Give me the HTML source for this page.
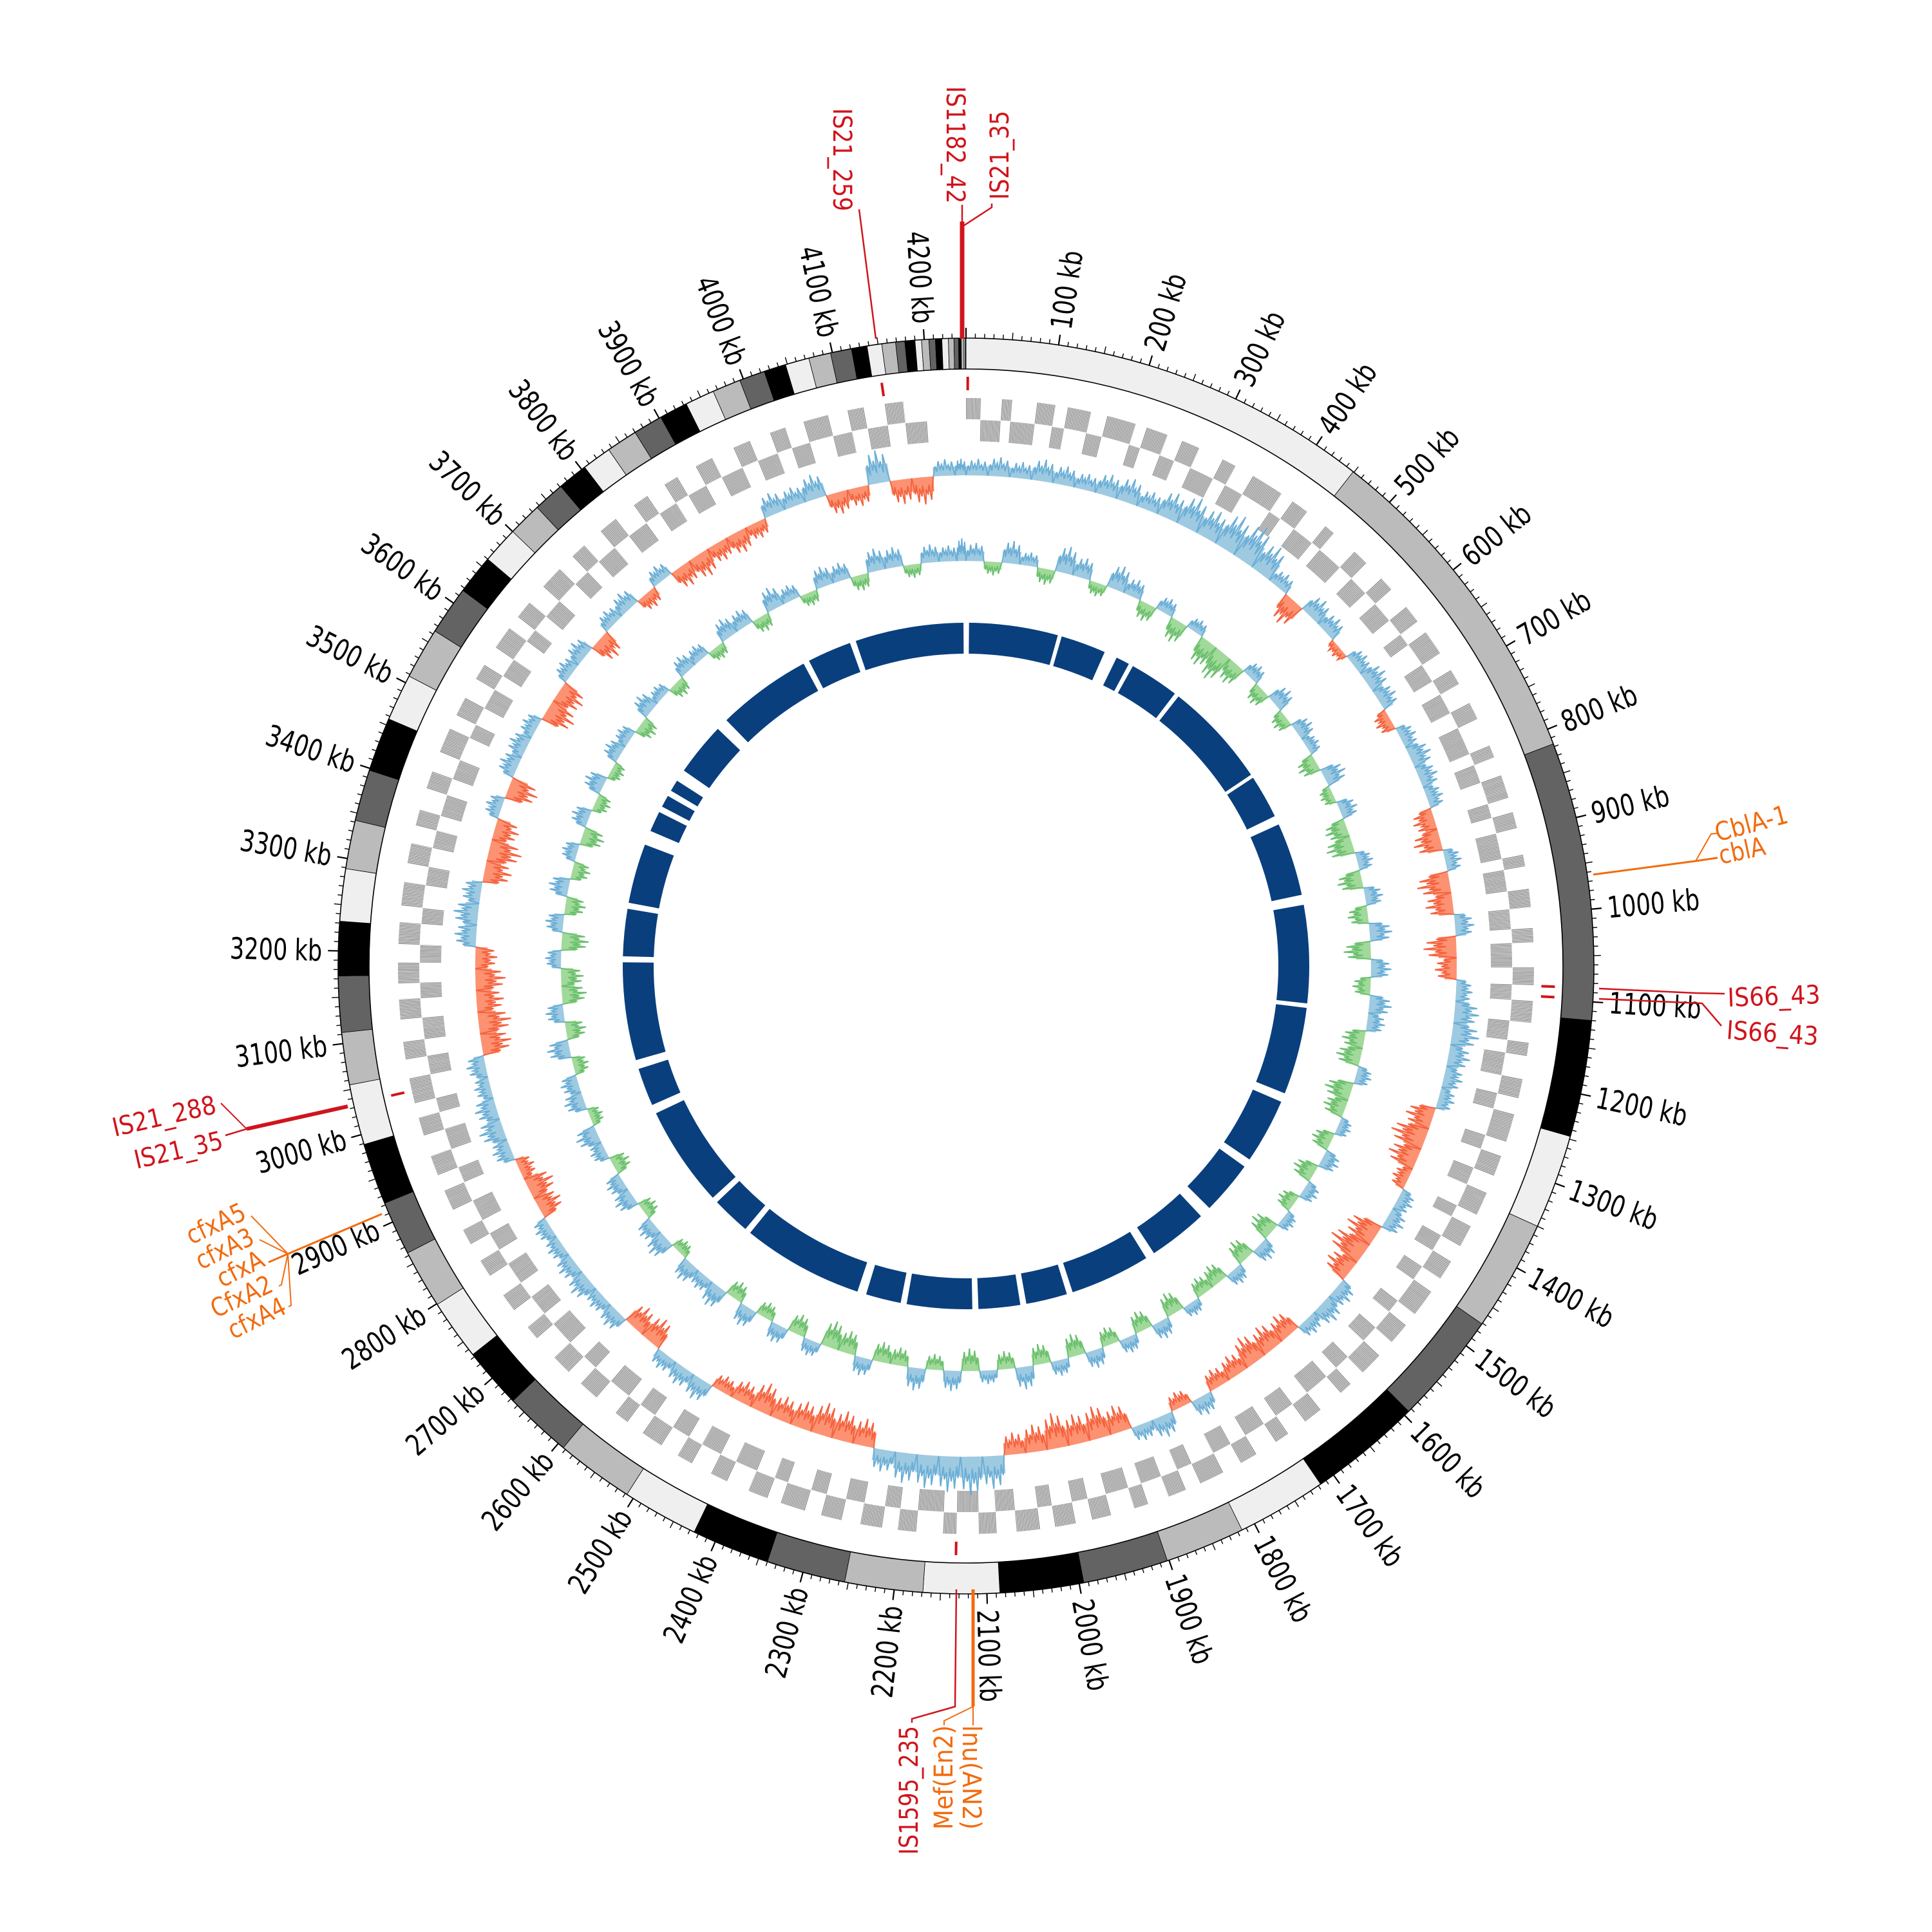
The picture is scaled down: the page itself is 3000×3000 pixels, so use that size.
<!DOCTYPE html>
<html><head><meta charset="utf-8"><title>Genome circos map</title>
<style>
html,body{margin:0;padding:0;background:#fff;}
svg{display:block;}
.tl{font-family:"DejaVu Sans Condensed","Liberation Sans",sans-serif;font-size:46px;fill:#000;}
.an{font-family:"DejaVu Sans Condensed","Liberation Sans",sans-serif;font-size:40px;}
.red{fill:#d0141c;} .org{fill:#f26b0f;}
</style></head>
<body>
<svg id="chart" xmlns="http://www.w3.org/2000/svg" width="3000" height="3000" viewBox="0 0 3000 3000">
<rect width="3000" height="3000" fill="#fff"/>
<g id="g-ideo"></g>
<g id="g-ticks"></g>
<g id="g-ticklabels"></g>
<g id="g-is"></g>
<g id="g-genes"></g>
<g id="g-trackA"></g>
<g id="g-trackB"></g>
<g id="g-blocks"></g>

<g id="annotations">
  <g fill="none">
    <polyline points="1360,526 1334,325" stroke="#d0141c" stroke-width="2.5"/>
    <polyline points="1494,526 1494,344" stroke="#d0141c" stroke-width="7"/>
    <polyline points="1494,344 1494,318" stroke="#d0141c" stroke-width="2.5"/>
    <polyline points="1494,352 1540,322 1540,316" stroke="#d0141c" stroke-width="2.5"/>
    <polyline points="2474,1358 2633,1337 2667,1332" stroke="#f26b0f" stroke-width="3"/>
    <polyline points="2633,1337 2657,1295 2667,1294" stroke="#f26b0f" stroke-width="2"/>
    <polyline points="2483,1535 2633,1542 2678,1543" stroke="#d0141c" stroke-width="2.5"/>
    <polyline points="2483,1551 2643,1558 2673,1593" stroke="#d0141c" stroke-width="2.5"/>
    <polyline points="540,1718 383,1753" stroke="#d0141c" stroke-width="6"/>
    <polyline points="383,1753 350,1763" stroke="#d0141c" stroke-width="2.5"/>
    <polyline points="383,1753 345,1715 343,1713" stroke="#d0141c" stroke-width="2"/>
    <polyline points="593,1885 447,1947 417,1960" stroke="#f26b0f" stroke-width="3"/>
    <polyline points="447,1947 390,1888" stroke="#f26b0f" stroke-width="2"/>
    <polyline points="447,1947 403,1925" stroke="#f26b0f" stroke-width="2"/>
    <polyline points="447,1947 437,1995 433,1997" stroke="#f26b0f" stroke-width="2"/>
    <polyline points="447,1947 452,2027 448,2029" stroke="#f26b0f" stroke-width="2"/>
    <polyline points="1485,2468 1483,2650 1416,2669 1416,2675" stroke="#d0141c" stroke-width="2.5"/>
    <polyline points="1511,2468 1511,2650" stroke="#f26b0f" stroke-width="5"/>
    <polyline points="1511,2650 1466,2672 1466,2679" stroke="#f26b0f" stroke-width="2"/>
    <polyline points="1511,2650 1511,2679" stroke="#f26b0f" stroke-width="2"/>
  </g>
  <text class="an red" transform="translate(1307,168) rotate(90)" dominant-baseline="central" textLength="160" lengthAdjust="spacingAndGlyphs">IS21_259</text>
  <text class="an red" transform="translate(1483,134) rotate(90)" dominant-baseline="central" textLength="182" lengthAdjust="spacingAndGlyphs">IS1182_42</text>
  <text class="an red" transform="translate(1553,310) rotate(-90)" dominant-baseline="central" textLength="138" lengthAdjust="spacingAndGlyphs">IS21_35</text>
  <text class="an org" transform="translate(2667,1307) rotate(-15)" textLength="116" lengthAdjust="spacingAndGlyphs">CblA-1</text>
  <text class="an org" transform="translate(2672,1342) rotate(-12)" textLength="73" lengthAdjust="spacingAndGlyphs">cblA</text>
  <text class="an red" transform="translate(2683,1563) rotate(-2)" textLength="144" lengthAdjust="spacingAndGlyphs">IS66_43</text>
  <text class="an red" transform="translate(2680,1613) rotate(4)" textLength="143" lengthAdjust="spacingAndGlyphs">IS66_43</text>
  <text class="an red" transform="translate(178,1765) rotate(-13)" textLength="164" lengthAdjust="spacingAndGlyphs">IS21_288</text>
  <text class="an red" transform="translate(212,1815) rotate(-13)" textLength="140" lengthAdjust="spacingAndGlyphs">IS21_35</text>
  <text class="an org" transform="translate(297,1933) rotate(-25)" textLength="97" lengthAdjust="spacingAndGlyphs">cfxA5</text>
  <text class="an org" transform="translate(312,1972) rotate(-26)" textLength="95" lengthAdjust="spacingAndGlyphs">cfxA3</text>
  <text class="an org" transform="translate(345,2000) rotate(-27)" textLength="77" lengthAdjust="spacingAndGlyphs">cfxA</text>
  <text class="an org" transform="translate(335,2047) rotate(-25)" textLength="101" lengthAdjust="spacingAndGlyphs">CfxA2</text>
  <text class="an org" transform="translate(362,2080) rotate(-26)" textLength="95" lengthAdjust="spacingAndGlyphs">cfxA4</text>
  <text class="an red" transform="translate(1412,2880) rotate(-90)" dominant-baseline="central" textLength="200" lengthAdjust="spacingAndGlyphs">IS1595_235</text>
  <text class="an org" transform="translate(1466,2841) rotate(-90)" dominant-baseline="central" textLength="162" lengthAdjust="spacingAndGlyphs">Mef(En2)</text>
  <text class="an org" transform="translate(1508,2679) rotate(90)" dominant-baseline="central" textLength="162" lengthAdjust="spacingAndGlyphs">lnu(AN2)</text>
</g>
</svg>

<script>
// ---------- data ----------
const genomeKb = 4245;
const bandEnds = [449,817,1120,1247,1350,1471,1594,1717,1815,1902,1995,2086,2169,2254,2340,2425,2508,2593,2667,2733,2799,2863,2922,2989,3055,3112,3173,3232,3289,3342,3398,3457,3508,3564,3617,3660,3700,3737,3771,3804,3836,3870,3902,3933,3965,3996,4024,4048,4074,4098,4121,4138,4154,4169,4179,4190,4197,4205,4212,4219,4226,4232,4237,4240,4242,4244,4245];
const bandColors = ["#efefef","#bbbbbb","#636363","#000000"];
const tickLabelsKb = [100,200,300,400,500,600,700,800,900,1000,1100,1200,1300,1400,1500,1600,1700,1800,1900,2000,2100,2200,2300,2400,2500,2600,2700,2800,2900,3000,3100,3200,3300,3400,3500,3600,3700,3800,3900,4000,4100,4200];
const isMarkKb = [2,4148,1085,1097,3034,2134];
const binKb = 30;
const skewValues = [
 0.3,0.35,0.3,0.4,0.35,0.3,0.4,0.45,0.35,0.5,0.6,0.55,0.7,0.75,0.6,
 0.3,-0.5,
 0.4,0.35,-0.2,0.3,0.4,0.35,-0.3,0.3,0.4,0.35,
 0.3,-0.4,-0.5,0.3,-0.6,-0.5,0.35,-0.6,-0.4,0.3,
 0.45,0.5,0.4,0.35,0.3,
 -0.5,-0.65,-0.55,-0.3,
 0.3,0.35,
 -0.6,-0.7,-0.5,
 0.35,0.4,0.3,
 -0.45,-0.5,-0.55,-0.4,-0.35,
 0.35,-0.3,0.4,0.3,
 -0.5,-0.6,-0.55,-0.65,-0.5,-0.4,
 0.6,0.7,0.65,0.6,0.55,0.4,
 -0.5,-0.55,-0.6,-0.5,-0.45,-0.55,-0.4,-0.3,
 0.4,0.35,0.3,
 -0.5,-0.45,
 0.35,0.3,0.4,0.35,0.3,0.3,
 -0.45,-0.5,-0.3,
 0.35,0.45,0.4,0.3,0.35,
 -0.55,-0.6,-0.5,-0.55,-0.4,
 0.4,0.45,0.35,
 -0.5,-0.6,-0.45,
 0.3,-0.55,0.35,
 0.35,0.3,
 -0.55,-0.5,
 0.3,0.35,-0.45,0.3,
 0.35,-0.3,0.3,
 -0.4,-0.45,-0.35,-0.4,-0.3,
 0.4,0.35,0.45,
 -0.4,-0.35,0.6,-0.45,-0.5,0.3,0.3];
const contentValues = [
 0.4,-0.3,0.5,0.3,-0.35,0.6,0.45,-0.3,0.55,0.4,-0.4,0.35,-0.5,0.3,-0.6,
 -0.7,-0.5,0.35,-0.4,0.45,-0.35,0.4,0.3,-0.45,0.5,-0.3,0.4,
 -0.5,-0.6,0.35,-0.55,0.4,-0.45,0.5,-0.6,0.45,-0.4,
 0.5,0.4,-0.5,-0.55,0.35,-0.6,-0.5,0.3,-0.45,0.4,-0.5,0.35,-0.4,0.3,
 -0.55,0.4,-0.5,0.35,-0.45,-0.4,0.3,-0.5,0.4,-0.45,0.35,-0.4,
 0.4,-0.5,0.35,-0.45,0.5,-0.4,0.3,-0.5,0.45,-0.35,0.5,-0.4,
 -0.45,0.4,-0.5,-0.6,0.35,-0.45,0.4,-0.35,0.45,-0.4,0.5,0.35,
 0.45,-0.3,0.5,0.4,-0.35,0.45,0.4,-0.4,0.35,0.5,-0.3,0.45,0.4,-0.35,0.5,
 -0.45,0.4,-0.55,-0.5,0.35,-0.6,0.4,-0.45,0.45,-0.4,0.35,-0.5,0.4,-0.35,
 0.45,-0.3,0.4,0.35,-0.4,0.45,0.3,-0.35,0.4,0.35,-0.3,0.45,0.4,-0.35,0.5,0.35,
 -0.3,0.45,0.4,-0.35,0.5,0.45,-0.3,0.4,0.35,0.5];
const geneRunKb = [18,25,12,30,22,15,28,20,35,14,26,19,22,31,17,24,40,16,21,28,13,33,20,25,18,27,22,16,30,24,19,26,21,35,15,23,28,18,20,32,14,27,22,25,17,30,21,19,26,24,16,28,23,20,34,18,25,22,29,15,27,21,24,19,33,17,26,22,28,20,16,31,23,25,18,27,21,24,30,19,22,26,17,29,23,20,25,18,28,24,21,27,16,32,22,19,26,23,25,20,30,17,24,28,21,26,19,23,27,22,18,29,25,20,24,31,17,26,22,28,21,23,19,27,25,20,24,26,22,18,30,23,21,27,24,19,25,22,26,20,28,23,24,22,19,27,21,25,30,18,23,26,20,24,28,17,22,25,29,21,19,26,23,27,20,24,18,25,22,28,21,26,19,23,30,24,20,25,22,27];
const geneSizeKb = 1.8;
const blockStartKb = [6,191,307,343,451,669,774,940,1144,1336,1483,1613,1749,1921,2015,2110,2252,2340,2594,2683,2902,2996,3203,3309,3457,3510,3546,3593,3723,3924,4024];
const blockEndKb   = [183,281,334,442,662,756,920,1135,1318,1466,1590,1731,1909,2003,2098,2240,2322,2582,2671,2884,2978,3191,3297,3428,3498,3534,3569,3699,3912,4012,4240];

// ---------- geometry ----------
const NS = "http://www.w3.org/2000/svg";
const CX = 1500, CY = 1500;
function ang(kb){ return kb / genomeKb * 2 * Math.PI; }
function px(r, kb){ return CX + r * Math.sin(ang(kb)); }
function py(r, kb){ return CY - r * Math.cos(ang(kb)); }
function sector(r1, r2, a, b){
  const large = (b - a) / genomeKb > 0.5 ? 1 : 0;
  return "M" + px(r2,a).toFixed(2) + "," + py(r2,a).toFixed(2) +
    " A" + r2 + "," + r2 + " 0 " + large + " 1 " + px(r2,b).toFixed(2) + "," + py(r2,b).toFixed(2) +
    " L" + px(r1,b).toFixed(2) + "," + py(r1,b).toFixed(2) +
    " A" + r1 + "," + r1 + " 0 " + large + " 0 " + px(r1,a).toFixed(2) + "," + py(r1,a).toFixed(2) + " Z";
}
function make(tag, parent){ const e = document.createElementNS(NS, tag); parent.appendChild(e); return e; }

// ---------- ideogram ----------
const gI = document.getElementById("g-ideo");
let prev = 0;
bandEnds.forEach((end, i) => {
  const p = make("path", gI);
  p.setAttribute("d", sector(927, 975, prev, end));
  p.setAttribute("fill", bandColors[i % 4]);
  p.setAttribute("stroke", "#000");
  p.setAttribute("stroke-width", "0.8");
  
  
  prev = end;
});
[927, 975].forEach(r => {
  const c = make("circle", gI);
  c.setAttribute("cx", CX); c.setAttribute("cy", CY); c.setAttribute("r", r);
  c.setAttribute("fill", "none"); c.setAttribute("stroke", "#000"); c.setAttribute("stroke-width", "1.6");
  
  
});

// ---------- ticks ----------
const gT = document.getElementById("g-ticks");
for (let kb = 0; kb < genomeKb; kb += 10) {
  const len = kb % 100 === 0 ? 16 : (kb % 50 === 0 ? 11 : 7);
  const l = make("line", gT);
  l.setAttribute("x1", px(975, kb)); l.setAttribute("y1", py(975, kb));
  l.setAttribute("x2", px(975 + len, kb)); l.setAttribute("y2", py(975 + len, kb));
  l.setAttribute("stroke", "#000"); l.setAttribute("stroke-width", kb % 100 === 0 ? "2.2" : "1.4");
  
  
}
const gL = document.getElementById("g-ticklabels");
tickLabelsKb.forEach(kb => {
  const deg = kb / genomeKb * 360;
  const t = make("text", gL);
  const label = kb + " kb";
  t.textContent = label;
  t.setAttribute("class", "tl");
  t.setAttribute("dominant-baseline", "central");
  const x = px(1000, kb), y = py(1000, kb);
  if (deg < 180) { t.setAttribute("text-anchor", "start"); t.setAttribute("transform", "translate(" + x + "," + y + ") rotate(" + (deg - 90) + ")"); }
  else { t.setAttribute("text-anchor", "end"); t.setAttribute("transform", "translate(" + x + "," + y + ") rotate(" + (deg + 90) + ")"); }
  t.setAttribute("textLength", label.length * 20.5);
  t.setAttribute("lengthAdjust", "spacingAndGlyphs");
  
  
});

// ---------- IS marks ----------
const gS = document.getElementById("g-is");
isMarkKb.forEach(kb => {
  const l = make("line", gS);
  l.setAttribute("x1", px(894, kb)); l.setAttribute("y1", py(894, kb));
  l.setAttribute("x2", px(915, kb)); l.setAttribute("y2", py(915, kb));
  l.setAttribute("stroke", "#d0141c"); l.setAttribute("stroke-width", "4");
  
  
});

// ---------- gene track (runs split into individual genes) ----------
const gG = document.getElementById("g-genes");
let gpos = 0;
geneRunKb.forEach((len, i) => {
  if (gpos >= genomeKb) return;
  const end = Math.min(genomeKb, gpos + len);
  const outer = i % 2 === 0;
  let d = "";
  for (let s = gpos; s < end - 0.3; s += geneSizeKb) {
    const e = Math.min(end, s + geneSizeKb - 0.45);
    d += (outer ? sector(849, 882, s, e) : sector(815, 848, s, e)) + " ";
  }
  const p = make("path", gG);
  p.setAttribute("d", d);
  p.setAttribute("fill", "#9a9a9a");
  
  
  gpos = end;
});

// ---------- histogram tracks ----------
function drawTrack(gid, values, base, amp, posFill, posLine, negFill, negLine, nm){
  const g = document.getElementById(gid);
  values.forEach((v, i) => {
    const a = i * binKb, b = Math.min(genomeKb, (i + 1) * binKb);
    if (a >= genomeKb) return;
    const pos = v >= 0;
    const fillR = base + v * amp * 0.55;
    const s = make("path", g);
    s.setAttribute("d", pos ? sector(base, fillR, a, b) : sector(fillR, base, a, b));
    s.setAttribute("fill", pos ? posFill : negFill);
    
    
    const pts = [[0.1,0.6],[0.25,0.9],[0.4,0.7],[0.55,1.0],[0.7,0.65],[0.85,0.85]];
    let d = "M" + px(base, a).toFixed(1) + "," + py(base, a).toFixed(1);
    pts.forEach(([f, k]) => {
      const kb = a + (b - a) * f;
      const r = base + v * amp * k;
      d += " L" + px(r, kb).toFixed(1) + "," + py(r, kb).toFixed(1);
      const r2 = base + v * amp * k * 0.45;
      d += " L" + px(r2, kb + (b - a) * 0.07).toFixed(1) + "," + py(r2, kb + (b - a) * 0.07).toFixed(1);
    });
    d += " L" + px(base, b).toFixed(1) + "," + py(base, b).toFixed(1);
    const ln = make("path", g);
    ln.setAttribute("d", d);
    ln.setAttribute("fill", pos ? posFill : negFill);
    ln.setAttribute("fill-opacity", "0.6");
    ln.setAttribute("stroke", pos ? posLine : negLine);
    ln.setAttribute("stroke-width", "2");
    
    
  });
}
drawTrack("g-trackA", skewValues, 762, 85, "#9ecae1", "#6baed6", "#fc9272", "#f4623f", "gc-skew");
drawTrack("g-trackB", contentValues, 629, 70, "#9ecae1", "#6baed6", "#a1d99b", "#6cc06e", "gc-content");

// ---------- block ring ----------
const gB = document.getElementById("g-blocks");
blockStartKb.forEach((s, i) => {
  const p = make("path", gB);
  p.setAttribute("d", sector(485, 533, s, blockEndKb[i]));
  p.setAttribute("fill", "#0a3f7e");
  
  
});
</script>
</body></html>
